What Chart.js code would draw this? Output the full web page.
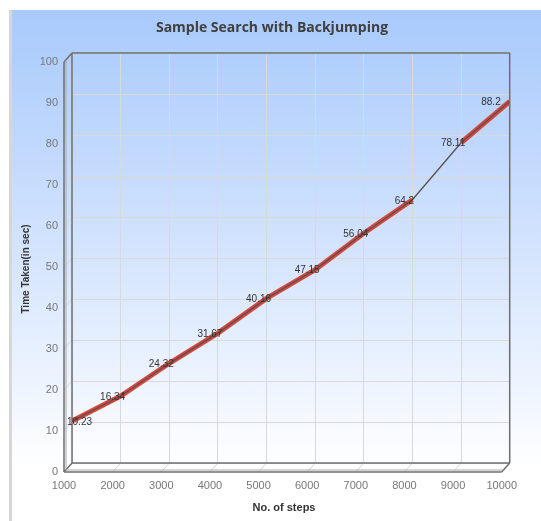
<!DOCTYPE html>
<html>
<head>
<meta charset="utf-8">
<script src="https://cdn.jsdelivr.net/npm/chart.js@4.4.0/dist/chart.umd.min.js"></script>
<style>
html, body { margin: 0; padding: 0; background: #fff; }
#bg {
    position: absolute; left: 9px; top: 10px; width: 532px; height: 511px;
    box-sizing: border-box; border-left: 3px solid #d6d6d6;
    background: linear-gradient(to bottom, #a8cafc 0%, #c4dafd 30%, #e2edfe 62%, #ffffff 90%);
}
#wrap { position: absolute; left: 0; top: 0; width: 541px; height: 521px; }
</style>
</head>
<body>
<div id="bg"></div>
<div id="wrap"><canvas id="chart" width="541" height="521"></canvas></div>
<script>
const steps = [1000, 2000, 3000, 4000, 5000, 6000, 7000, 8000, 9000, 10000];
const timeTaken = [10.23, 16.34, 24.32, 31.67, 40.16, 47.15, 56.04, 64.2, 78.11, 88.2];
const pointLabels = ['10.23', '16.34', '24.32', '31.67', '40.16', '47.15', '56.04', '64.2', '78.11', '88.2'];

const points = steps.map((s, i) => ({ x: s, y: timeTaken[i] }));

// depth of the fake 3D frame
const DX = -8, DY = 9;

const framePlugin = {
    id: 'frame3d',
    beforeDatasetsDraw(chart) {
        const { ctx, chartArea: a, scales } = chart;
        ctx.save();
        ctx.lineWidth = 1;
        ctx.strokeStyle = '#d6d6d6';
        scales.x.ticks.forEach(t => {
            const x = scales.x.getPixelForValue(t.value);
            ctx.beginPath();
            ctx.moveTo(x, a.bottom);
            ctx.lineTo(x + DX, a.bottom + DY);
            ctx.stroke();
        });
        scales.y.ticks.forEach(t => {
            const y = scales.y.getPixelForValue(t.value);
            ctx.beginPath();
            ctx.moveTo(a.left, y);
            ctx.lineTo(a.left + DX, y + DY);
            ctx.stroke();
        });

        ctx.strokeStyle = '#6e6e6e';
        ctx.lineWidth = 1.5;
        const seg = (x1, y1, x2, y2) => {
            ctx.beginPath();
            ctx.moveTo(x1, y1);
            ctx.lineTo(x2, y2);
            ctx.stroke();
        };
        // back wall
        seg(a.left, a.top, a.right, a.top);
        seg(a.right, a.top, a.right, a.bottom);
        seg(a.left, a.top, a.left, a.bottom);
        seg(a.left, a.bottom, a.right, a.bottom);
        // front edges
        seg(a.left + DX, a.top + DY, a.left + DX, a.bottom + DY);
        seg(a.left + DX, a.bottom + DY, a.right + DX, a.bottom + DY);
        seg(a.left, a.top, a.left + DX, a.top + DY);
        seg(a.left, a.bottom, a.left + DX, a.bottom + DY);
        seg(a.right, a.bottom, a.right + DX, a.bottom + DY);
        ctx.strokeStyle = '#a8a8a8';
        ctx.lineWidth = 1;
        seg(a.left + DX + 2, a.top + DY - 2, a.left + DX + 2, a.bottom + DY - 2);
        seg(a.left + DX + 2, a.bottom + DY - 2, a.right + DX + 2, a.bottom + DY - 2);
        ctx.restore();
    },
    afterDatasetsDraw(chart) {
        const { ctx, chartArea: a } = chart;
        const meta = chart.getDatasetMeta(0);
        ctx.save();
        ctx.font = '10px "Liberation Sans"';
        ctx.fillStyle = '#333';
        ctx.textAlign = 'center';
        ctx.textBaseline = 'middle';
        meta.data.forEach((p, i) => {
            const txt = pointLabels[i];
            const w = ctx.measureText(txt).width;
            let x = p.x - 8;
            x = Math.max(x, a.left - 5 + w / 2);
            x = Math.min(x, a.right - 9 - w / 2);
            ctx.fillText(txt, x, p.y + 1);
        });
        ctx.restore();
    },
    afterDraw(chart) {
        const { ctx } = chart;
        ctx.save();
        ctx.font = 'bold 14px "Open Sans"';
        ctx.fillStyle = '#404040';
        ctx.textAlign = 'center';
        ctx.textBaseline = 'middle';
        ctx.fillText('Sample Search with Backjumping', 272, 28);

        // axis titles
        ctx.fillStyle = '#333';
        ctx.font = 'bold 11px "Liberation Sans"';
        ctx.fillText('No. of steps', 284, 508);
        ctx.translate(26, 269);
        ctx.rotate(-Math.PI / 2);
        ctx.font = 'bold 10px "Liberation Sans"';
        ctx.fillText('Time Taken(in sec)', 0, 0);
        ctx.restore();
    }
};

new Chart(document.getElementById('chart'), {
    type: 'line',
    data: {
        datasets: [{
            label: 'Time Taken',
            data: points,
            borderColor: '#5c5252',
            borderWidth: 1.4,
            pointRadius: 0,
            tension: 0,
            fill: false
        }, {
            label: 'band',
            data: points,
            borderColor: '#d9463c',
            borderWidth: 5,
            pointRadius: 0,
            tension: 0,
            fill: false,
            segment: {
                borderColor: c => c.p0DataIndex === 7 ? 'rgba(0,0,0,0)' : undefined
            }
        }]
    },
    plugins: [framePlugin],
    options: {
        responsive: false,
        animation: false,
        devicePixelRatio: 1,
        layout: { padding: { left: 0, top: 53, right: 28, bottom: 0 } },
        plugins: {
            legend: { display: false },
            tooltip: { enabled: false }
        },
        scales: {
            x: {
                type: 'linear',
                min: 1000,
                max: 10000,
                afterFit: s => { s.height = 58; },
                grid: { color: '#d9d9d9', drawTicks: false },
                border: { display: false },
                ticks: {
                    stepSize: 1000,
                    padding: 16,
                    labelOffset: DX,
                    color: '#777',
                    font: { family: 'Liberation Sans', size: 11 },
                    callback: v => String(v)
                }
            },
            y: {
                min: 0,
                max: 100,
                afterFit: s => { s.width = 72; },
                grid: { color: '#d9d9d9', drawTicks: false },
                border: { display: false },
                ticks: {
                    stepSize: 10,
                    padding: 14,
                    labelOffset: DY,
                    color: '#777',
                    font: { family: 'Liberation Sans', size: 11 }
                }
            }
        }
    }
});
</script>
</body>
</html>
